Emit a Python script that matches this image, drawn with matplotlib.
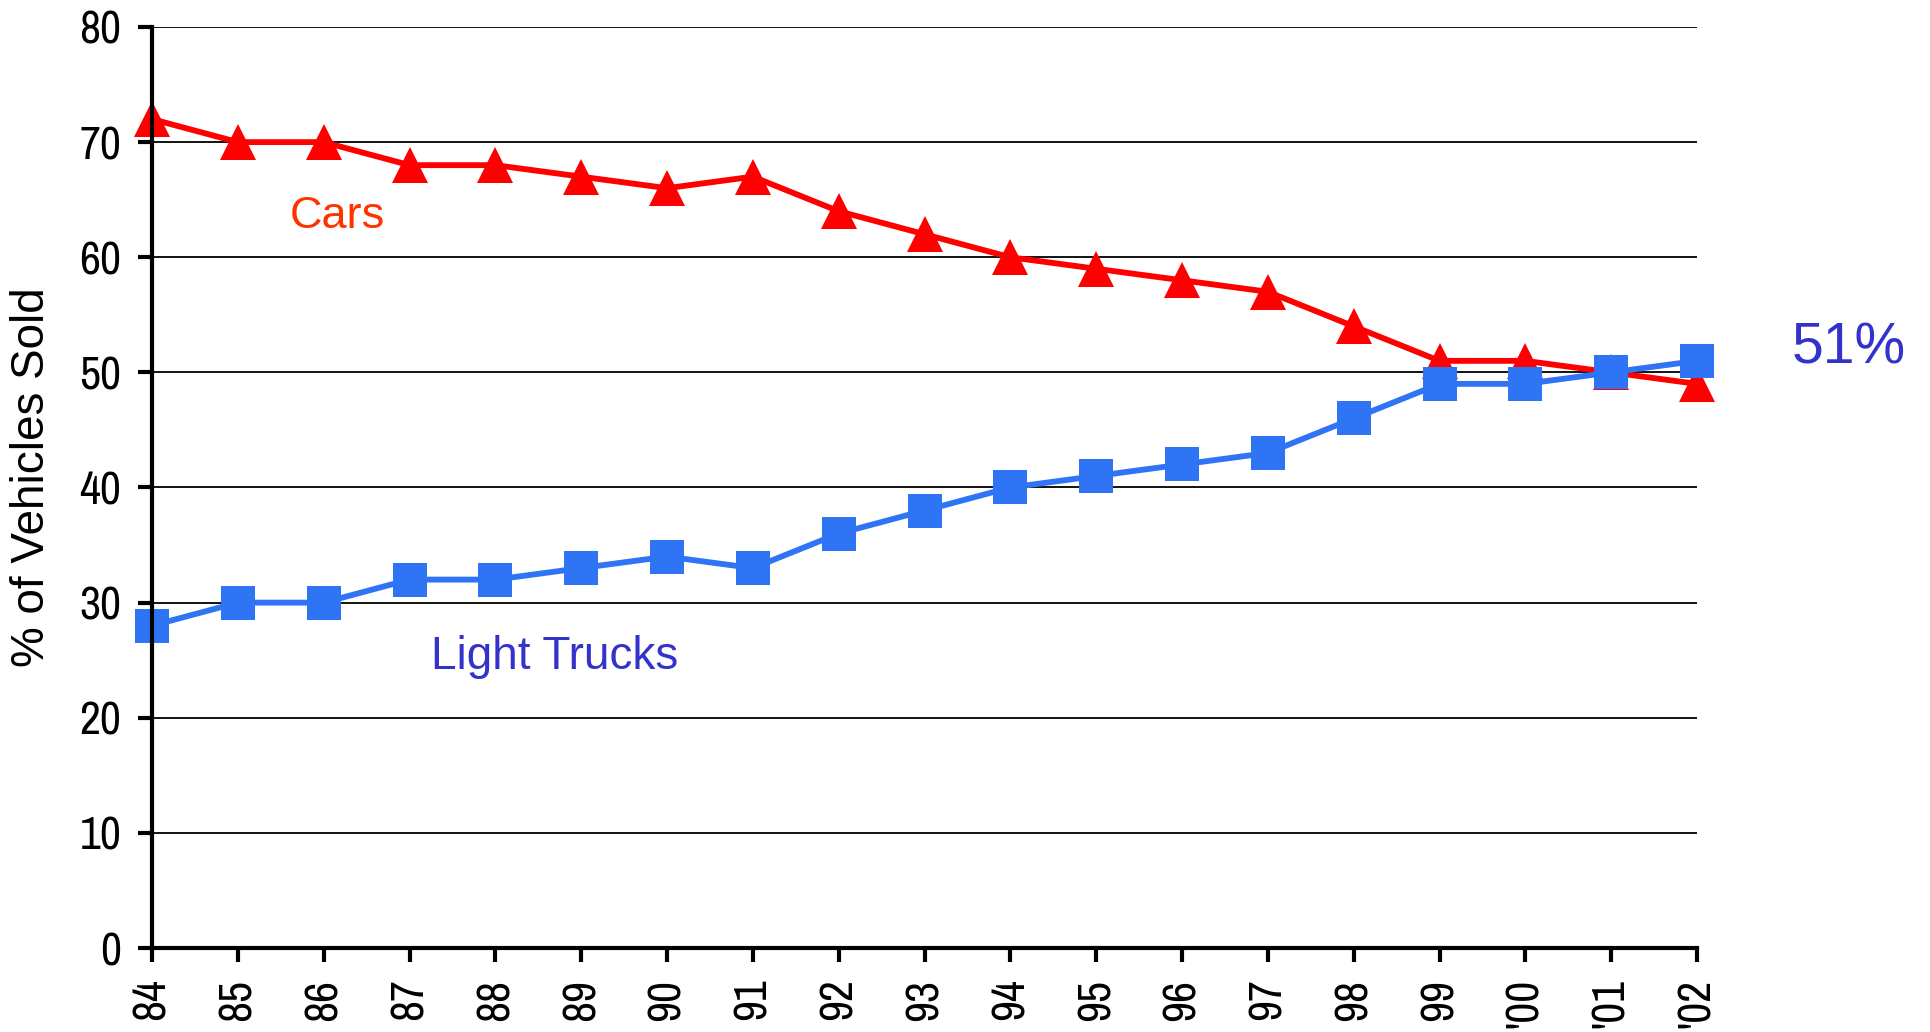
import matplotlib
matplotlib.use("Agg")
import matplotlib.pyplot as plt

# Share of new vehicles sold in the U.S., by model year
years = ["84", "85", "86", "87", "88", "89", "90", "91", "92", "93",
         "94", "95", "96", "97", "98", "99", "'00", "'01", "'02"]
cars = [72, 70, 70, 68, 68, 67, 66, 67, 64, 62, 60, 59, 58, 57, 54, 51, 51, 50, 49]
light_trucks = [28, 30, 30, 32, 32, 33, 34, 33, 36, 38, 40, 41, 42, 43, 46, 49, 49, 50, 51]
y_ticks = [0, 10, 20, 30, 40, 50, 60, 70, 80]

RED = "#FF0000"
BLUE = "#2F74F5"
LABEL_BLUE = "#3333CC"
LABEL_RED = "#FF3300"

plt.rcParams["font.family"] = ["Liberation Sans", "DejaVu Sans"]
tick_font = ["Archivo Narrow", "Liberation Sans", "DejaVu Sans"]

fig = plt.figure(figsize=(19.30, 10.32), dpi=100)
ax = fig.add_axes([152 / 1930, 1 - 948 / 1032, (1697 - 152) / 1930, (948 - 27) / 1032])

x = list(range(len(years)))

ax.plot(x, cars, color=RED, lw=4.2, marker="^", markersize=26,
        markeredgewidth=0, clip_on=False, zorder=3)
ax.plot(x, light_trucks, color=BLUE, lw=4.2, marker="s", markersize=24,
        markeredgewidth=0, clip_on=False, zorder=4)

ax.set_xlim(0, len(years) - 1)
ax.set_ylim(0, 80)
ax.set_yticks(y_ticks)
ax.set_yticklabels([str(v) for v in y_ticks], fontfamily=tick_font, fontsize=33)
ax.set_xticks(x)
ax.set_xticklabels(years, rotation=90, fontfamily=tick_font, fontsize=33)

ax.grid(axis="y", color="black", lw=1.3, zorder=1)
ax.set_axisbelow(True)

for side in ("top", "right"):
    ax.spines[side].set_visible(False)
for side in ("left", "bottom"):
    ax.spines[side].set_linewidth(3)
    ax.spines[side].set_zorder(5)
ax.tick_params(axis="both", width=3, length=10, pad=12, color="black")

ax.text(1.61, 62.55, "Cars", color=LABEL_RED, fontsize=32.5, ha="left", va="baseline")
ax.text(3.25, 24.24, "Light Trucks", color=LABEL_BLUE, fontsize=33, ha="left", va="baseline")
ax.text(19.1, 50.8, f"{light_trucks[-1]}%", color=LABEL_BLUE, fontsize=41,
        ha="left", va="baseline", clip_on=False)

fig.text(32 / 1930, 1 - 477 / 1032, "% of Vehicles Sold", rotation=90,
         fontsize=33, ha="center", va="center")

fig.savefig("out.png", dpi=100, facecolor="white")
